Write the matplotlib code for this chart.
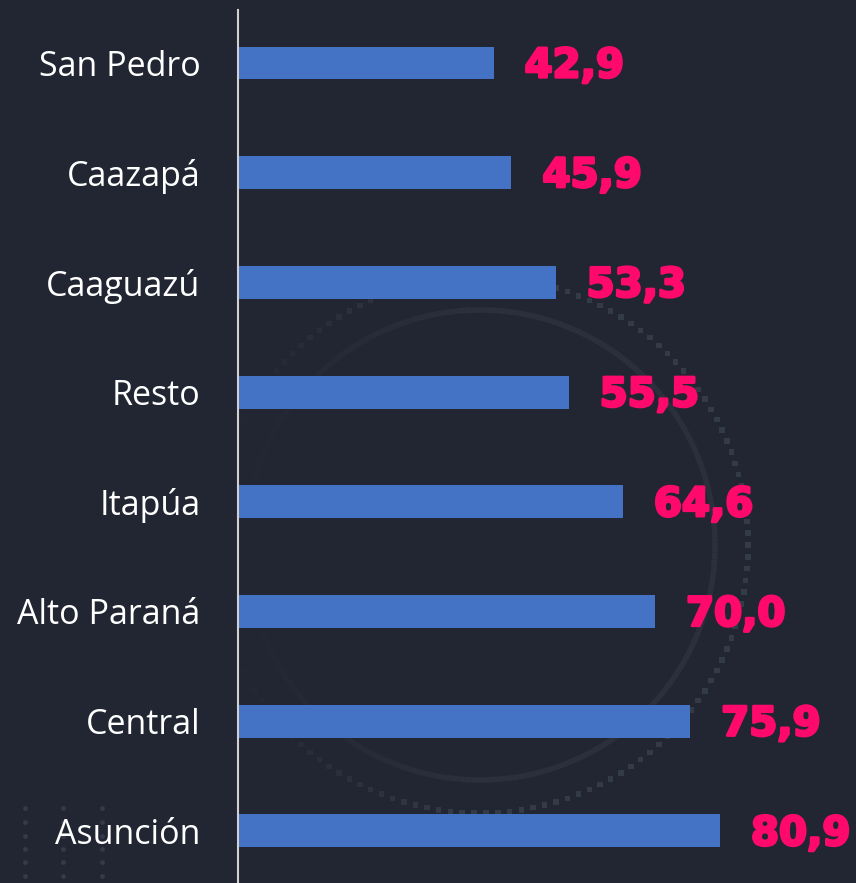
import matplotlib
matplotlib.use("Agg")
import matplotlib.pyplot as plt
import numpy as np
from matplotlib.collections import LineCollection
import matplotlib.patheffects as pe

categories = ["San Pedro", "Caazapá", "Caaguazú", "Resto", "Itapúa", "Alto Paraná", "Central", "Asunción"]
values = [42.9, 45.9, 53.3, 55.5, 64.6, 70.0, 75.9, 80.9]
value_labels = ["42,9", "45,9", "53,3", "55,5", "64,6", "70,0", "75,9", "80,9"]

BG = "#212632"
BAR = "#4472C4"
VAL = "#FF0A6C"

W, H = 856, 883
fig = plt.figure(figsize=(W / 100, H / 100), dpi=100, facecolor=BG)

# decorative background layer (pixel coordinates)
bg = fig.add_axes([0, 0, 1, 1])
bg.set_xlim(0, W)
bg.set_ylim(H, 0)
bg.axis("off")
bg.set_facecolor(BG)

cx, cy = 480, 545


def fade(x):
    return np.clip((x - 230) / 230, 0.03, 1.0)


# solid faint circle
t = np.linspace(0, 2 * np.pi, 400)
xs = cx + 235 * np.cos(t)
ys = cy + 235 * np.sin(t)
pts = np.column_stack([xs, ys]).reshape(-1, 1, 2)
segs = np.concatenate([pts[:-1], pts[1:]], axis=1)
xm = (xs[:-1] + xs[1:]) / 2
cols = [(0.17, 0.19, 0.235, a) for a in fade(xm)]
bg.add_collection(LineCollection(segs, colors=cols, linewidths=4))

# dotted circle
td = np.linspace(0, 2 * np.pi, 142, endpoint=False)
dxs = cx + 268 * np.cos(td)
dys = cy + 268 * np.sin(td)
dcols = [(0.20, 0.23, 0.28, a) for a in fade(dxs)]
bg.scatter(dxs, dys, s=16, marker="s", c=dcols, lw=0)

# dot grid bottom-left
gx, gy = np.meshgrid([25, 63, 102], [808, 822, 836, 849, 862, 876])
bg.scatter(gx.ravel(), gy.ravel(), s=12, c="#333A48", lw=0)

left = 238 / W
ax = fig.add_axes([left, 0, 1 - left, (H - 10) / H])
ax.patch.set_alpha(0)
scale = 5.958  # px per unit
ax.set_xlim(0, (W - 238) / scale)
ax.set_ylim(7.475, -0.483)

y = np.arange(len(categories))
ax.barh(y, values, height=0.30, color=BAR)
for yi, v, lab in zip(y, values, value_labels):
    ax.text(v + 31 / scale, yi + 0.03, lab, color=VAL, fontsize=29, fontweight="heavy",
            va="center", ha="left", family=["DejaVu Sans"],
            path_effects=[pe.withStroke(linewidth=2, foreground=VAL)])

ax.set_yticks(y)
ax.set_yticklabels(categories, color="white", fontsize=24.5, family=["Open Sans", "DejaVu Sans"])
ax.tick_params(axis="y", length=0, pad=27)
ax.set_xticks([])
for s in ["top", "right", "bottom"]:
    ax.spines[s].set_visible(False)
ax.spines["left"].set_color("#D0D0D0")
ax.spines["left"].set_linewidth(1.5)

fig.savefig("out.png", dpi=100, facecolor=BG)
